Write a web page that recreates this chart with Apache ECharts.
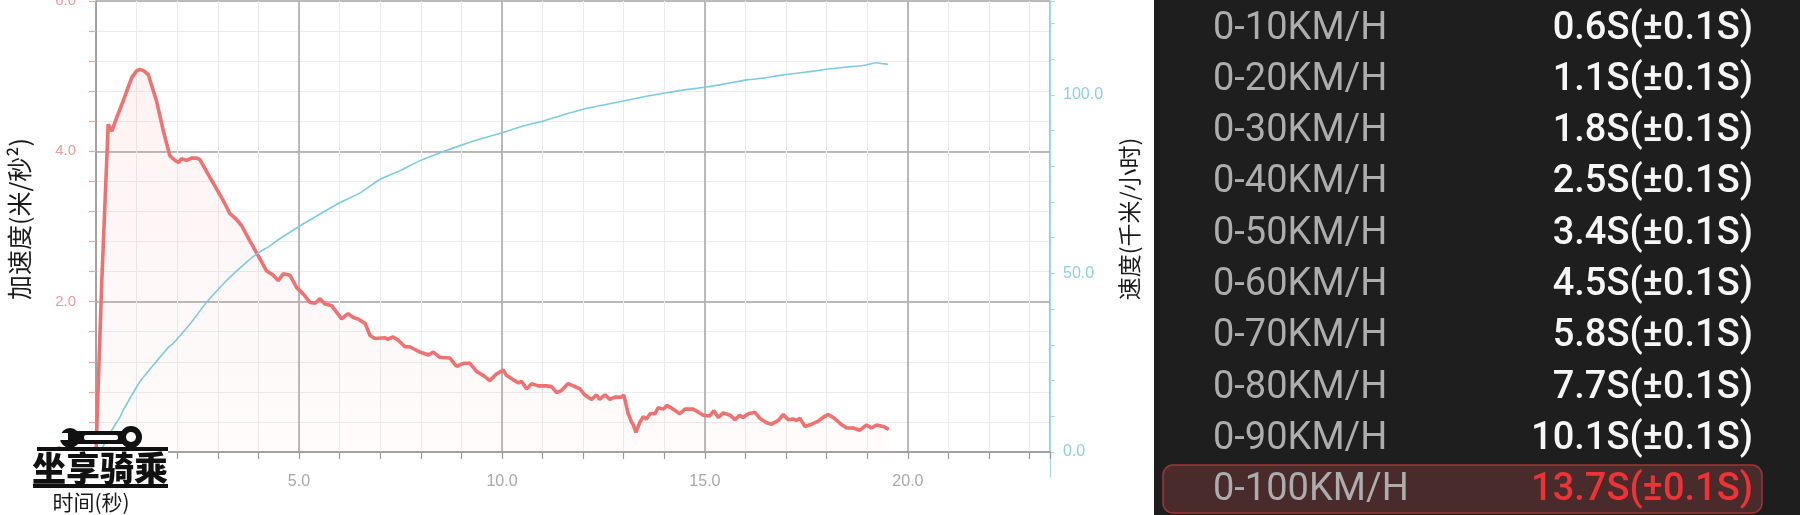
<!DOCTYPE html>
<html>
<head>
<meta charset="utf-8">
<script src="https://cdn.jsdelivr.net/npm/echarts@6/dist/echarts.min.js"></script>
<style>
html,body{margin:0;padding:0;background:#ffffff;}
#chart{width:1800px;height:515px;}
</style>
</head>
<body>
<div id="chart"></div>
<script>
// ---------- data ----------
const accelTime = [0, 0.14, 0.30, 0.39, 0.51, 0.67, 0.88, 1.0, 1.08, 1.18, 1.29, 1.49, 1.66, 1.82, 1.95, 2.03, 2.1, 2.23, 2.35, 2.48, 2.56, 2.81, 3.14, 3.30, 3.45, 3.59, 3.79, 4.04, 4.20, 4.37, 4.49, 4.61, 4.78, 4.94, 5.11, 5.27, 5.40, 5.52, 5.64, 5.80, 6.05, 6.21, 6.34, 6.46, 6.63, 6.75, 6.87, 7.12, 7.18, 7.32, 7.44, 7.61, 7.73, 7.98, 8.19, 8.31, 8.47, 8.72, 8.88, 9.05, 9.21, 9.38, 9.54, 9.70, 9.87, 10.03, 10.11, 10.28, 10.41, 10.48, 10.61, 10.73, 10.89, 11.10, 11.22, 11.35, 11.47, 11.63, 11.76, 11.92, 12.04, 12.21, 12.33, 12.40, 12.54, 12.66, 12.78, 12.95, 13.00, 13.11, 13.19, 13.23, 13.30, 13.40, 13.48, 13.56, 13.65, 13.77, 13.85, 13.97, 14.06, 14.22, 14.38, 14.51, 14.71, 14.84, 14.96, 15.12, 15.22, 15.33, 15.45, 15.62, 15.74, 15.86, 15.94, 16.07, 16.23, 16.35, 16.52, 16.64, 16.81, 16.93, 17.05, 17.17, 17.25, 17.34, 17.46, 17.63, 17.79, 17.91, 18.04, 18.16, 18.33, 18.49, 18.65, 18.82, 18.98, 19.10, 19.23, 19.39, 19.53];
const accelValues = [0, 2.24, 4.36, 4.27, 4.45, 4.67, 4.98, 5.07, 5.09, 5.07, 5.02, 4.67, 4.27, 3.94, 3.88, 3.85, 3.90, 3.88, 3.91, 3.91, 3.89, 3.65, 3.34, 3.17, 3.10, 3.01, 2.81, 2.57, 2.41, 2.35, 2.28, 2.37, 2.35, 2.19, 2.10, 1.99, 1.98, 2.04, 1.97, 1.95, 1.77, 1.84, 1.79, 1.77, 1.71, 1.55, 1.51, 1.52, 1.50, 1.53, 1.49, 1.40, 1.40, 1.33, 1.29, 1.33, 1.26, 1.25, 1.14, 1.18, 1.18, 1.07, 1.02, 0.95, 1.04, 1.09, 1.02, 0.96, 0.92, 0.94, 0.84, 0.91, 0.88, 0.88, 0.87, 0.79, 0.82, 0.91, 0.88, 0.84, 0.76, 0.70, 0.76, 0.70, 0.76, 0.70, 0.73, 0.73, 0.76, 0.51, 0.40, 0.37, 0.26, 0.40, 0.47, 0.44, 0.51, 0.51, 0.59, 0.57, 0.62, 0.57, 0.51, 0.57, 0.57, 0.53, 0.49, 0.48, 0.55, 0.46, 0.52, 0.49, 0.43, 0.49, 0.46, 0.51, 0.53, 0.45, 0.39, 0.37, 0.42, 0.50, 0.43, 0.44, 0.42, 0.45, 0.34, 0.37, 0.41, 0.46, 0.50, 0.46, 0.38, 0.32, 0.32, 0.29, 0.36, 0.32, 0.36, 0.34, 0.30];

const speedTime = [0.1, 0.39, 0.6, 0.67, 1.0, 1.1, 1.41, 1.8, 1.9, 2.32, 2.5, 2.73, 3.14, 3.4, 3.71, 3.96, 4.29, 4.5, 5.02, 5.5, 6.0, 6.5, 7.0, 7.49, 7.98, 8.5, 8.97, 9.5, 10.03, 10.5, 11.02, 11.5, 12.0, 12.5, 12.99, 13.5, 14.06, 14.5, 15.04, 15.5, 16.03, 16.5, 16.93, 17.5, 18.0, 18.5, 18.98, 19.22, 19.35, 19.51];
const speedValues = [0, 6.1, 10, 11.7, 18.2, 20, 24.3, 29.5, 30.4, 35.9, 38.6, 42.0, 47.1, 50, 53.2, 55.5, 57.8, 59.5, 63.3, 66.5, 69.8, 72.5, 76.4, 78.8, 81.6, 83.9, 85.8, 87.8, 89.5, 91.2, 92.7, 94.4, 96.0, 97.2, 98.3, 99.5, 100.6, 101.4, 102.2, 103.1, 104.2, 104.8, 105.6, 106.4, 107.2, 107.8, 108.4, 109.0, 108.8, 108.6];

const xLabelTicks = [0, 5, 10, 15, 20];
const accelLabelTicks = [0, 2, 4, 6];
const speedLabelTicks = [0, 50, 100];

const rangeLabels = ['0-10KM/H', '0-20KM/H', '0-30KM/H', '0-40KM/H', '0-50KM/H', '0-60KM/H', '0-70KM/H', '0-80KM/H', '0-90KM/H', '0-100KM/H'];
const rangeTimes = ['0.6S(±0.1S)', '1.1S(±0.1S)', '1.8S(±0.1S)', '2.5S(±0.1S)', '3.4S(±0.1S)', '4.5S(±0.1S)', '5.8S(±0.1S)', '7.7S(±0.1S)', '10.1S(±0.1S)', '13.7S(±0.1S)'];

// ---------- helpers ----------
const isIn = (arr, v) => arr.some(m => Math.abs(m - v) < 1e-6);
const NUM_FONT = '"Liberation Sans", Arial, sans-serif';
const PANEL_FONT = 'Roboto, "Liberation Sans", sans-serif';
const CJK_FONT = '"Noto Sans CJK SC", sans-serif';

const chart = echarts.init(document.getElementById('chart'), null, {renderer: 'canvas'});

// right panel graphics
const panel = [];
panel.push({type: 'rect', shape: {x: 1154, y: 0, width: 646, height: 515}, style: {fill: '#1e1e1e'}, z: 1});
const rowY0 = 29, rowStep = 51.3;
rangeLabels.forEach((lab, i) => {
  const y = rowY0 + rowStep * i;
  const last = i === rangeLabels.length - 1;
  if (last) {
    panel.push({type: 'rect', shape: {x: 1163, y: 465, width: 599, height: 48, r: 10},
      style: {fill: '#4a2b2b', stroke: '#a23434', lineWidth: 1.5}, z: 2});
  }
  panel.push({type: 'text', x: 1213, y: y, z: 3,
    style: {text: lab, fill: '#adadad', font: '400 38px ' + PANEL_FONT, align: 'left', verticalAlign: 'middle', textAlign: 'left', textVerticalAlign: 'middle'}});
  panel.push({type: 'text', x: 1753, y: y, z: 3,
    style: {text: rangeTimes[i], fill: last ? '#ee3338' : '#f6f6f6', font: '500 38px ' + PANEL_FONT, align: 'right', verticalAlign: 'middle', textAlign: 'right', textVerticalAlign: 'middle'}});
});

// axis names and watermark
const extras = [
  {type: 'text', x: 19, y: 219, rotation: Math.PI / 2, z: 5,
    style: {text: '加速度(米/秒²)', fill: '#1a1a1a', font: '25px ' + CJK_FONT, align: 'center', verticalAlign: 'middle', textAlign: 'center', textVerticalAlign: 'middle'}},
  {type: 'text', x: 1129, y: 219, rotation: Math.PI / 2, z: 5,
    style: {text: '速度(千米/小时)', fill: '#1a1a1a', font: '23px ' + CJK_FONT, align: 'center', verticalAlign: 'middle', textAlign: 'center', textVerticalAlign: 'middle'}},
  // watermark logo
  {type: 'rect', shape: {x: 70, y: 431, width: 60, height: 13, r: 6}, style: {fill: '#111'}, z: 10},
  {type: 'circle', shape: {cx: 131, cy: 437, r: 11}, style: {fill: '#111'}, z: 10},
  {type: 'circle', shape: {cx: 131, cy: 437, r: 5}, style: {fill: '#fff'}, z: 11},
  {type: 'circle', shape: {cx: 70, cy: 438, r: 10}, style: {fill: '#111'}, z: 10},
  {type: 'rect', shape: {x: 57, y: 433, width: 11, height: 7}, style: {fill: '#fff'}, z: 11},
  {type: 'rect', shape: {x: 84, y: 435, width: 34, height: 5, r: 2}, style: {fill: '#fff'}, z: 11},
  {type: 'rect', shape: {x: 37, y: 447, width: 131, height: 4}, style: {fill: '#111'}, z: 10},
  {type: 'rect', shape: {x: 33, y: 484, width: 135, height: 4}, style: {fill: '#111'}, z: 10},
  {type: 'rect', shape: {x: 33, y: 451, width: 135, height: 33}, style: {fill: '#fff'}, z: 9},
  {type: 'text', x: 100, y: 468, z: 12,
    style: {text: '坐享骑乘', fill: '#111', font: '900 34px ' + CJK_FONT, align: 'center', verticalAlign: 'middle', textAlign: 'center', textVerticalAlign: 'middle'}},
  {type: 'text', x: 91, y: 502, z: 12,
    style: {text: '时间(秒)', fill: '#1a1a1a', font: '21px ' + CJK_FONT, align: 'center', verticalAlign: 'middle', textAlign: 'center', textVerticalAlign: 'middle'}}
];

const option = {
  animation: false,
  backgroundColor: '#ffffff',
  grid: [
    {left: 96, right: 750, top: 1, bottom: 63, containLabel: false, outerBoundsMode: 'none'},
    {left: 96, right: 750, top: 452, bottom: 38, containLabel: false, outerBoundsMode: 'none'}
  ],
  xAxis: [
    { // minor grid + ticks + labels
      type: 'value', gridIndex: 0, position: 'bottom', min: 0, max: 23.5, interval: 1,
      axisLine: {show: true, onZero: false, lineStyle: {color: '#9a9a9a', width: 1.5}},
      axisTick: {show: true, length: 7, lineStyle: {color: '#9a9a9a', width: 1.2}},
      axisLabel: {color: '#a8a8a8', fontSize: 16, fontFamily: NUM_FONT, margin: 22,
        formatter: v => isIn(xLabelTicks, v) ? v.toFixed(1) : ''},
      splitLine: {show: true, lineStyle: {color: '#ececec', width: 1}}
    },
    { // major vertical grid lines
      type: 'value', gridIndex: 0, position: 'top', min: 0, max: 23.5, interval: 5,
      axisLine: {show: false}, axisTick: {show: false}, axisLabel: {show: false},
      splitLine: {show: true, lineStyle: {color: '#a6a6a6', width: 1.5}}
    },
    { // small grid below the plot (carries the lower stub of the speed axis)
      type: 'value', gridIndex: 1, position: 'bottom', min: 0, max: 23.5,
      axisLine: {show: false}, axisTick: {show: false}, axisLabel: {show: false}, splitLine: {show: false}
    }
  ],
  yAxis: [
    { // acceleration
      type: 'value', gridIndex: 0, position: 'left', min: 0, max: 6, interval: 0.4,
      axisLine: {show: true, onZero: false, lineStyle: {color: '#9a9a9a', width: 1.5}},
      axisTick: {show: true, length: 7, lineStyle: {color: '#f2a0a0', width: 1.2}},
      axisLabel: {color: '#f09a9a', fontSize: 15, fontFamily: NUM_FONT, margin: 20,
        formatter: v => isIn(accelLabelTicks, v) ? v.toFixed(1) : ''},
      splitLine: {show: true, lineStyle: {color: '#ececec', width: 1}}
    },
    { // speed
      type: 'value', gridIndex: 0, position: 'right', min: 0, max: 126.3, interval: 10,
      axisLine: {show: true, onZero: false, lineStyle: {color: '#a8d8e6', width: 1.3}},
      axisTick: {show: true, length: 5, lineStyle: {color: '#a8d8e6', width: 1}},
      axisLabel: {color: '#8ecfe0', fontSize: 16, fontFamily: NUM_FONT, margin: 13,
        formatter: v => isIn(speedLabelTicks, v) ? v.toFixed(1) : ''},
      splitLine: {show: false}
    },
    { // major horizontal grid lines
      type: 'value', gridIndex: 0, position: 'left', min: 0, max: 6, interval: 2,
      axisLine: {show: false}, axisTick: {show: false}, axisLabel: {show: false},
      splitLine: {show: true, lineStyle: {color: '#a6a6a6', width: 1.5}}
    },
    { // lower stub of the speed axis line
      type: 'value', gridIndex: 1, position: 'right', min: 0, max: 1,
      axisLine: {show: true, onZero: false, lineStyle: {color: '#a8d8e6', width: 1.3}},
      axisTick: {show: false}, axisLabel: {show: false}, splitLine: {show: false}
    }
  ],
  series: [
    {
      name: '加速度', type: 'line', xAxisIndex: 0, yAxisIndex: 0,
      data: accelTime.map((t, i) => [t, accelValues[i]]),
      showSymbol: false, symbol: 'none', smooth: false,
      lineStyle: {color: '#ee7272', width: 3.6},
      itemStyle: {color: '#ee7272'},
      areaStyle: {color: new echarts.graphic.LinearGradient(0, 0, 0, 1, [
        {offset: 0, color: 'rgba(240,120,120,0.13)'},
        {offset: 1, color: 'rgba(240,120,120,0.04)'}
      ])},
      z: 3
    },
    {
      name: '速度', type: 'line', xAxisIndex: 0, yAxisIndex: 1,
      data: speedTime.map((t, i) => [t, speedValues[i]]),
      showSymbol: false, symbol: 'none', smooth: 0.2,
      lineStyle: {color: '#7dcbe0', width: 1.6},
      itemStyle: {color: '#7dcbe0'},
      z: 4
    }
  ],
  graphic: {elements: panel.concat(extras)}
};
chart.setOption(option);
</script>
</body>
</html>
